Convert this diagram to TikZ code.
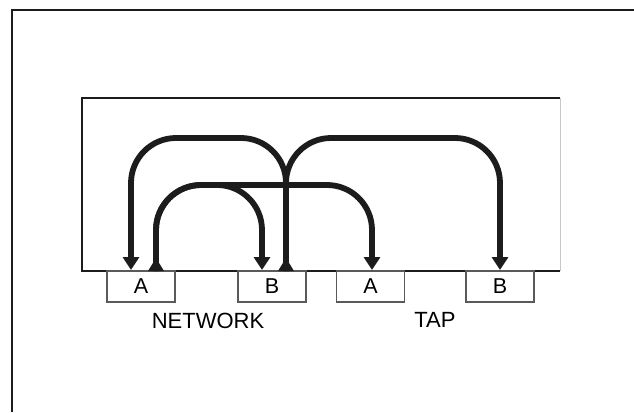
\documentclass[tikz,border=0pt]{standalone}
\usepackage{fontspec}
\setmainfont{Liberation Sans}
\usetikzlibrary{arrows.meta,calc}
\definecolor{ink}{HTML}{1C1C1C}
\definecolor{boxgray}{HTML}{5A5A5A}
\definecolor{edgegray}{HTML}{C8C8C8}
\begin{document}
\begin{tikzpicture}[x=1pt,y=-1pt,
  frame/.style={draw=ink,line width=2.2pt},
  panel/.style={draw=ink,line width=1.3pt},
  port/.style={draw=boxgray,line width=1.3pt,minimum width=68pt,minimum height=31pt,inner sep=0pt,font=\fontsize{21.5}{25}\selectfont},
  lbl/.style={font=\fontsize{22}{26}\selectfont,inner sep=0pt},
  wire/.style={draw=ink,line width=5.8pt,rounded corners=45pt},
  towire/.style={wire,-{Triangle[width=16pt,length=13pt]}},
  tail/.style={fill=ink}]
\useasboundingbox (0,0) rectangle (634,412);
% outer frame (top and left visible)
\draw[frame] (12,412) -- (12,10) -- (634,10);
% inner panel
\draw[panel] (560,98) -- (82,98) -- (82,271) -- (560,271);
\draw[draw=edgegray,line width=1pt] (560,98) -- (560,271);
% boxes
\node[port] (na) at (141,286.5) {A};
\node[port] (nb) at (272,286.5) {B};
\node[port] (ta) at (370.5,286.5) {A};
\node[port] (tb) at (500,286.5) {B};
\node[lbl] (net) at (208,320.5) {NETWORK};
\node[lbl] (tap) at (435,320) {TAP};
% ports
\coordinate (naIn) at (131,270);
\coordinate (naOut) at (156,271);
\coordinate (nbIn) at (262,270);
\coordinate (nbOut) at (286,271);
\coordinate (taIn) at (372,270);
\coordinate (tbIn) at (500,270);
% connectors
\draw[towire] (nbOut) -- (286,138) -- (131,138) -- (naIn);
\draw[towire] (nbOut) -- (286,138) -- (500,138) -- (tbIn);
\draw[towire] (naOut) -- (156,185) -- (262,185) -- (nbIn);
\draw[towire] (naOut) -- (156,185) -- (372,185) -- (taIn);
% source tails
\fill[tail] ($(naOut)+(-8,0)$) -- ($(naOut)+(8,0)$) -- ($(naOut)+(0,-13)$) -- cycle;
\fill[tail] ($(nbOut)+(-8,0)$) -- ($(nbOut)+(8,0)$) -- ($(nbOut)+(0,-13)$) -- cycle;
\end{tikzpicture}
\end{document}
